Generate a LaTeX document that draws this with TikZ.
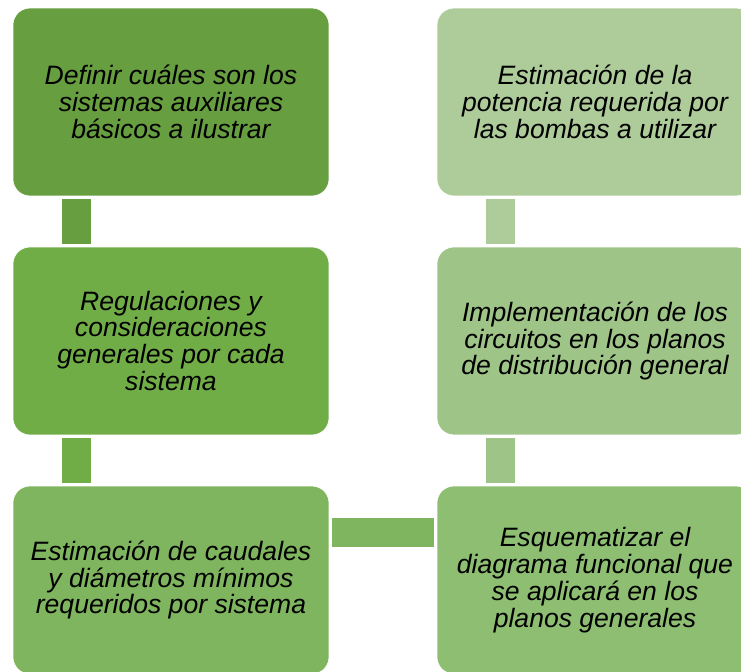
\documentclass[tikz,border=0pt]{standalone}
\usepackage{fontspec}
\setmainfont{Liberation Sans}
\usepackage{tikz}
\usepackage{xcolor}
\definecolor{pasoUno}{RGB}{103, 158, 64}
\definecolor{pasoDos}{RGB}{112, 173, 71}
\definecolor{pasoTres}{RGB}{127, 181, 94}
\definecolor{pasoCuatro}{RGB}{141, 190, 113}
\definecolor{pasoCinco}{RGB}{158, 196, 135}
\definecolor{pasoSeis}{RGB}{174, 203, 154}

\begin{document}
\begin{tikzpicture}[
    paso/.style={rectangle, rounded corners=0.45cm, draw=white, thin, minimum width=8.36cm, minimum height=4.97cm, inner sep=0pt, align=center, font=\fontsize{20}{20.3}\selectfont\itshape},
    barra/.style={line width=0.767cm}]
    \useasboundingbox (0,0) rectangle (19.606,-17.754);
    \clip (0,0) rectangle (19.606,-17.754);
    % Process steps
    \node[paso, fill=pasoUno] (def) at (4.524,-2.699) {Definir cuáles son los\\sistemas auxiliares\\básicos a ilustrar};
    \node[paso, fill=pasoDos] (reg) at (4.524,-9.022) {Regulaciones y\\consideraciones\\generales por cada\\sistema};
    \node[paso, fill=pasoTres] (est) at (4.524,-15.346) {Estimación de caudales\\y diámetros mínimos\\requeridos por sistema};
    \node[paso, fill=pasoCuatro] (esq) at (15.743,-15.346) {Esquematizar el\\diagrama funcional que\\se aplicará en los\\planos generales};
    \node[paso, fill=pasoCinco] (impl) at (15.743,-9.022) {Implementación de los\\circuitos en los planos\\de distribución general};
    \node[paso, fill=pasoSeis] (pot) at (15.743,-2.699) {Estimación de la\\potencia requerida por\\las bombas a utilizar};

    \draw[barra, pasoUno!97!pasoDos] ([xshift=1.68cm,yshift=-0.08cm]def.south west) -- ([xshift=1.68cm,yshift=0.08cm]reg.north west);
    \draw[barra, pasoDos] ([xshift=1.68cm,yshift=-0.08cm]reg.south west) -- ([xshift=1.68cm,yshift=0.08cm]est.north west);
    \draw[barra, pasoTres] ([xshift=0.08cm,yshift=1.257cm]est.east) -- ([xshift=-0.08cm,yshift=1.257cm]esq.west);
    \draw[barra, pasoCinco] ([xshift=1.68cm,yshift=0.08cm]esq.north west) -- ([xshift=1.68cm,yshift=-0.08cm]impl.south west);
    \draw[barra, pasoSeis] ([xshift=1.68cm,yshift=0.08cm]impl.north west) -- ([xshift=1.68cm,yshift=-0.08cm]pot.south west);
\end{tikzpicture}
\end{document}
